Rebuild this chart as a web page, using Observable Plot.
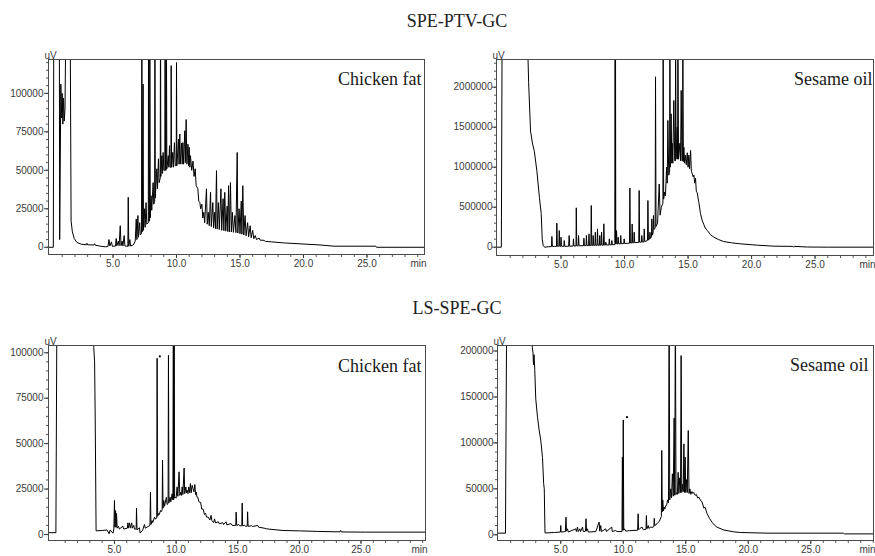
<!DOCTYPE html>
<html><head><meta charset="utf-8">
<script src="https://cdn.jsdelivr.net/npm/d3@7"></script>
<script src="https://cdn.jsdelivr.net/npm/@observablehq/plot@0.6"></script>
<style>
html,body{margin:0;padding:0;background:#fff;overflow:hidden;}
#wrap{position:relative;width:875px;height:556px;overflow:hidden;background:#fff;}
#wrap svg{position:absolute;left:0;top:0;}
.title{position:absolute;font-family:"Liberation Serif","Times New Roman",serif;font-size:18px;line-height:18px;color:#222;transform:translateX(-50%);white-space:nowrap;}
</style></head><body>
<div id="wrap">
  <div class="title" style="left:457px;top:12px;">SPE-PTV-GC</div>
  <div class="title" style="left:457px;top:299px;">LS-SPE-GC</div>
</div>
<script>
// ---- tick labels ----
const xTicks = [5, 10, 15, 20, 25];
const yTicksChickenPTV = [0, 25000, 50000, 75000, 100000];
const yTicksSesamePTV = [0, 500000, 1000000, 1500000, 2000000];
const yTicksChickenLS = [0, 25000, 50000, 75000, 100000];
const yTicksSesameLS = [0, 50000, 100000, 150000, 200000];
const sampleLabels = ["Chicken fat", "Sesame oil", "Chicken fat", "Sesame oil"];

// ---- chromatograms: [time (min), signal (uV)] ----
const chickenPTV = [
[-0.1,0],[0.3,0],[0.34,160000],[0.77,160000],[0.8,5000],[0.84,47000],[0.89,106000],[0.95,84000],[1.0,100000],[1.05,80000],[1.1,97000],[1.16,82000],[1.22,90000],[1.3,160000],[1.62,160000],[1.7,17000],[1.8,10000],[1.95,5600],[2.15,3200],[2.5,2000],[2.9,1600],[2.95,2600],[3.0,1600],[3.5,1500],[3.55,2300],[3.6,1400],[4.0,700],[4.4,300],[4.6,500],[4.68,5000],[4.75,800],[4.88,3500],[4.95,600],[5.2,800],[5.25,5700],[5.3,900],[5.42,4000],[5.48,1000],[5.57,14000],[5.63,1000],[5.72,4000],[5.78,900],[5.88,7600],[5.94,800],[6.17,600],[6.2,32500],[6.24,700],[6.33,5000],[6.38,800],[6.6,1500],[6.75,4000],[6.83,18400],[6.88,5000],[6.96,20600],[7.0,6500],[7.1,16000],[7.15,8000],[7.25,9000],[7.27,160000],[7.3,10000],[7.37,106000],[7.4,11000],[7.48,25000],[7.53,13000],[7.6,29000],[7.66,15000],[7.78,16000],[7.8,160000],[7.84,17000],[7.88,17000],[7.9,160000],[7.93,19000],[8.0,33500],[8.05,24000],[8.16,42000],[8.21,28000],[8.28,30000],[8.3,160000],[8.33,32000],[8.45,51000],[8.5,38000],[8.58,57500],[8.63,42000],[8.72,45000],[8.74,160000],[8.77,46000],[8.85,59500],[8.9,48000],[8.95,61600],[9.0,50000],[9.08,50000],[9.1,160000],[9.14,50000],[9.18,50000],[9.2,160000],[9.24,51000],[9.35,59500],[9.4,52000],[9.45,66000],[9.5,52000],[9.56,52000],[9.58,118000],[9.61,52000],[9.7,61600],[9.75,52000],[9.84,68000],[9.9,53000],[9.98,53000],[10.0,120000],[10.03,53000],[10.16,70300],[10.2,54000],[10.26,73600],[10.3,54000],[10.4,67800],[10.45,54000],[10.5,68000],[10.56,54000],[10.65,75700],[10.7,55000],[10.76,83000],[10.82,54000],[10.9,67000],[10.95,53000],[11.0,65000],[11.05,52000],[11.1,59500],[11.2,50000],[11.3,56000],[11.38,46000],[11.47,51000],[11.55,40000],[11.68,38000],[11.75,30000],[11.84,29000],[11.9,25000],[12.0,28000],[12.07,19000],[12.15,22700],[12.22,16000],[12.36,38000],[12.42,15000],[12.5,22700],[12.58,14000],[12.68,35700],[12.74,13500],[12.86,29000],[12.92,12500],[13.0,22700],[13.07,12000],[13.15,49800],[13.2,11800],[13.3,29000],[13.37,11500],[13.5,38000],[13.56,11000],[13.67,31600],[13.73,10800],[13.8,35700],[13.88,10500],[13.99,26700],[14.04,10200],[14.1,40000],[14.17,10000],[14.25,42000],[14.32,9900],[14.4,22700],[14.48,9700],[14.6,20600],[14.68,9500],[14.78,61600],[14.83,9200],[14.93,25000],[15.0,8800],[15.1,30000],[15.15,8500],[15.22,40000],[15.3,8000],[15.4,20600],[15.48,7500],[15.6,16000],[15.68,6800],[15.8,14000],[15.88,6200],[16.0,11000],[16.08,5600],[16.2,7600],[16.3,5000],[16.5,6000],[16.6,4600],[16.9,4500],[17.0,3800],[17.5,3500],[18.5,2800],[19.8,2200],[21.3,1500],[22.4,700],[25.7,700],[25.75,0],[29.7,0]
];

const sesamePTV = [
[-0.1,0],[0.3,0],[0.31,375000],[0.36,2600000],[2.36,2600000],[2.45,2062000],[2.6,1450000],[2.76,1290000],[2.9,1200000],[3.1,950000],[3.3,620000],[3.44,420000],[3.52,100000],[3.6,20000],[3.7,0],[4.0,5000],[4.25,8000],[4.28,134000],[4.32,8000],[4.5,10000],[4.64,10000],[4.67,300000],[4.71,12000],[4.83,10000],[4.86,208000],[4.9,12000],[4.97,10000],[5.0,125000],[5.04,12000],[5.22,10000],[5.25,83000],[5.3,10000],[5.6,12000],[5.64,146000],[5.68,12000],[5.95,14000],[5.98,104000],[6.02,14000],[6.18,16000],[6.2,492000],[6.24,16000],[6.35,17000],[6.38,146000],[6.42,18000],[6.77,18000],[6.8,112000],[6.84,19000],[6.97,20000],[7.0,146000],[7.04,20000],[7.17,20000],[7.2,167000],[7.24,21000],[7.35,21000],[7.38,521000],[7.42,22000],[7.5,22000],[7.53,146000],[7.57,22000],[7.67,23000],[7.7,187000],[7.74,23000],[7.84,23000],[7.87,229000],[7.91,24000],[8.02,24000],[8.05,146000],[8.09,25000],[8.16,25000],[8.19,187000],[8.23,25000],[8.34,26000],[8.37,292000],[8.41,26000],[8.5,27000],[8.53,62000],[8.57,27000],[8.77,28000],[8.8,104000],[8.84,28000],[8.97,30000],[9.0,83000],[9.04,30000],[9.24,32000],[9.26,2600000],[9.28,60000],[9.29,2600000],[9.31,40000],[9.34,40000],[9.37,208000],[9.41,40000],[9.47,40000],[9.5,125000],[9.54,42000],[9.67,42000],[9.7,146000],[9.74,43000],[9.94,45000],[9.97,104000],[10.01,46000],[10.2,48000],[10.39,50000],[10.42,740000],[10.46,52000],[10.57,53000],[10.6,290000],[10.64,54000],[10.73,55000],[10.76,187000],[10.8,56000],[11.12,60000],[11.15,708000],[11.19,62000],[11.33,63000],[11.36,146000],[11.4,64000],[11.52,66000],[11.55,229000],[11.59,70000],[11.81,85000],[11.84,583000],[11.88,90000],[11.97,100000],[12.0,187000],[12.04,110000],[12.12,130000],[12.15,354000],[12.19,150000],[12.25,180000],[12.28,396000],[12.32,220000],[12.41,240000],[12.44,2130000],[12.48,260000],[12.6,300000],[12.73,790000],[12.8,400000],[12.9,500000],[13.02,550000],[13.04,2600000],[13.08,600000],[13.15,690000],[13.22,640000],[13.31,1000000],[13.36,800000],[13.41,1584000],[13.48,900000],[13.55,950000],[13.57,2600000],[13.6,1000000],[13.67,1667000],[13.72,1050000],[13.75,1300000],[13.8,1050000],[13.88,1834000],[13.95,1080000],[14.0,1080000],[14.02,2600000],[14.06,1100000],[14.15,1500000],[14.18,1100000],[14.2,2600000],[14.25,1100000],[14.36,1300000],[14.41,1080000],[14.46,1959000],[14.52,1080000],[14.57,1080000],[14.59,2600000],[14.63,1070000],[14.67,1250000],[14.73,1050000],[14.8,1150000],[14.86,1030000],[14.94,1180000],[15.0,1000000],[15.06,1150000],[15.12,980000],[15.2,1209000],[15.26,950000],[15.33,917000],[15.4,880000],[15.46,900000],[15.52,800000],[15.59,860000],[15.65,700000],[15.72,680000],[15.85,560000],[15.98,420000],[16.1,340000],[16.25,280000],[16.35,240000],[16.51,210000],[16.75,160000],[17.03,125000],[17.4,95000],[17.8,71000],[18.4,55000],[19.1,42000],[20.45,25000],[21.76,12500],[23.2,10000],[23.3,4000],[23.4,10000],[24.4,2000],[26,0],[30.5,0]
];

const chickenLS = [
[-0.4,1000],[0.25,1000],[0.28,46000],[0.35,150000],[3.3,150000],[3.32,103000],[3.39,95000],[3.44,63000],[3.51,2000],[4.0,2200],[4.4,2500],[4.57,400],[4.65,2500],[4.88,700],[4.95,3000],[5.0,18700],[5.04,4000],[5.09,13200],[5.13,4000],[5.17,11600],[5.22,3500],[5.32,4600],[5.4,3000],[5.68,4600],[5.75,3000],[6.05,3500],[6.09,6400],[6.15,3500],[6.22,6400],[6.3,3500],[6.4,6400],[6.45,3500],[6.57,5000],[6.62,3000],[6.76,3000],[6.79,14500],[6.83,2500],[7.03,3700],[7.08,800],[7.3,2500],[7.43,5500],[7.5,3500],[7.88,5000],[7.92,23300],[7.96,5500],[8.05,7700],[8.1,6500],[8.25,9600],[8.3,8500],[8.43,9000],[8.46,97000],[8.5,10000],[8.59,11600],[8.64,11000],[8.73,13200],[8.78,12500],[8.87,13500],[8.9,41000],[8.94,14500],[9.0,18700],[9.06,15500],[9.21,20500],[9.27,16500],[9.35,17000],[9.38,98600],[9.42,17500],[9.52,20500],[9.57,18000],[9.68,22400],[9.74,19000],[9.78,150000],[9.8,19000],[9.84,150000],[9.88,20000],[9.95,20500],[10.0,20000],[10.08,26200],[10.14,21000],[10.24,34500],[10.3,21500],[10.39,23300],[10.44,21500],[10.49,26200],[10.55,22000],[10.65,36600],[10.7,22500],[10.79,26200],[10.84,23000],[10.9,24400],[10.96,22500],[11.03,26200],[11.1,23000],[11.16,28000],[11.22,23000],[11.3,27000],[11.37,25300],[11.45,23500],[11.52,27500],[11.58,22000],[11.63,23300],[11.7,20500],[11.76,20500],[11.85,18000],[11.99,17700],[12.08,14000],[12.19,14000],[12.3,11000],[12.4,11600],[12.46,9600],[12.6,9600],[12.74,8000],[12.84,10500],[12.9,7700],[13.05,6500],[13.12,8600],[13.2,6400],[13.43,7000],[13.5,5900],[13.79,6500],[13.85,5500],[14.05,7000],[14.12,5300],[14.46,6000],[14.55,5000],[14.84,5000],[14.87,12300],[14.92,5000],[15.08,5500],[15.15,4800],[15.33,4800],[15.36,17300],[15.4,4800],[15.54,5000],[15.6,4600],[15.77,4600],[15.8,12500],[15.84,4500],[16.11,4800],[16.2,4400],[16.62,5000],[16.7,4000],[17.14,3500],[17.34,3100],[18.68,2200],[20.02,2000],[21.46,1700],[22.8,1500],[23.3,1500],[23.35,2200],[23.4,1400],[25.38,1300],[30.3,1300]
];

const sesameLS = [
[-0.1,1800],[0.58,1800],[0.6,65000],[0.68,250000],[2.68,250000],[2.72,204000],[2.78,198000],[2.82,185000],[2.86,196000],[2.92,180000],[3.0,148000],[3.14,128000],[3.27,114000],[3.4,103000],[3.54,84000],[3.63,56000],[3.68,50000],[3.74,2000],[4.5,2500],[4.97,3000],[5.0,10100],[5.03,3000],[5.37,3500],[5.42,19200],[5.46,4000],[5.54,6500],[5.6,3000],[6.2,6500],[6.25,3500],[6.34,8400],[6.4,3500],[6.52,6500],[6.58,3500],[6.74,8400],[6.8,3500],[6.98,4000],[7.02,17500],[7.06,4000],[7.14,6500],[7.2,3000],[7.8,3500],[8.07,13800],[8.12,4000],[8.2,10100],[8.25,3500],[8.6,6500],[8.65,3500],[9.08,8400],[9.12,3500],[9.4,4700],[9.5,3500],[9.9,3500],[9.93,84500],[9.97,5000],[10.0,125000],[10.04,5000],[10.1,6500],[10.2,4000],[10.5,4500],[11.15,5000],[11.19,22900],[11.23,5500],[11.3,6500],[11.5,8400],[11.6,5500],[11.82,6000],[11.85,21000],[11.89,6500],[12.0,10100],[12.05,7000],[12.2,8400],[12.3,8000],[12.45,9000],[12.48,18000],[12.52,10000],[12.7,12000],[12.9,15000],[13.05,20000],[13.08,91800],[13.12,25000],[13.16,38000],[13.22,26000],[13.27,30000],[13.33,28000],[13.4,31800],[13.47,32000],[13.54,38000],[13.62,35000],[13.67,250000],[13.72,38000],[13.8,50000],[13.86,40000],[13.93,66400],[14.0,42000],[14.07,127000],[14.12,43000],[14.17,250000],[14.22,44000],[14.28,45700],[14.33,44000],[14.39,68000],[14.45,45000],[14.52,62000],[14.58,46000],[14.63,195000],[14.68,46000],[14.74,55000],[14.8,47000],[14.85,99000],[14.9,46000],[14.95,84500],[15.0,46000],[15.06,60000],[15.12,46000],[15.2,113500],[15.26,45000],[15.33,50000],[15.4,44000],[15.5,47000],[15.56,45000],[15.64,46000],[15.75,43000],[15.85,44000],[15.95,40000],[16.05,41000],[16.2,37000],[16.3,36000],[16.45,29000],[16.55,30000],[16.7,23000],[16.9,18000],[17.1,13700],[17.3,10500],[17.5,8300],[18.05,5200],[18.85,3200],[19.4,2500],[21.5,1800],[27.6,1800],[27.7,1000],[30.2,1000]
];

// marked peaks (asterisk dots)
const chickenLSMarks = [[8.68, 98000]];
const sesameLSMarks = [[10.3, 128000]];

const panels = [
  {data: chickenPTV, marks: [], label: sampleLabels[0], frame: [48, 424, 59, 254], xDomain: [-0.08, 29.53], yDomain: [-4700, 122000], yTicks: yTicksChickenPTV, yMinor: d3.range(0, 120001, 5000), pad: 1, ldx: -3, ldy: 25.5},
  {data: sesamePTV, marks: [], label: sampleLabels[1], frame: [496, 873, 59, 255], xDomain: [-0.08, 29.6], yDomain: [-104000, 2346000], yTicks: yTicksSesamePTV, yMinor: d3.range(0, 2300001, 100000), pad: 0, ldx: -1, ldy: 25.5},
  {data: chickenLS, marks: chickenLSMarks, label: sampleLabels[2], frame: [48, 425, 345, 540], xDomain: [-0.35, 30.23], yDomain: [-3300, 104000], yTicks: yTicksChickenLS, yMinor: d3.range(0, 100001, 5000), pad: 1, ldx: -4, ldy: 26},
  {data: sesameLS, marks: sesameLSMarks, label: sampleLabels[3], frame: [497, 873, 345, 540], xDomain: [-0.06, 30.02], yDomain: [-6200, 206000], yTicks: yTicksSesameLS, yMinor: d3.range(0, 200001, 10000), pad: 0, ldx: -5, ldy: 25}
];

const W = 875, H = 556;
const wrap = document.getElementById("wrap");
const ink = "#3a3a3a";
for (const p of panels) {
  const [l, r, t, b] = p.frame;
  const minorX = d3.range(1, 31, 1).filter(v => v >= p.xDomain[0] && v <= p.xDomain[1]);
  const svg = Plot.plot({
    width: W, height: H,
    marginLeft: l, marginRight: W - r, marginTop: t, marginBottom: H - b,
    x: {domain: p.xDomain},
    y: {domain: p.yDomain},
    style: {background: "transparent", fontFamily: "'Liberation Sans', Arial, sans-serif", fontSize: "10px", color: ink, overflow: "visible"},
    marks: [
      Plot.axisX(minorX, {tickSize: 3, tickFormat: () => "", label: null, color: "#555"}),
      Plot.axisX(xTicks, {tickSize: 4, tickPadding: 1, tickFormat: d => d.toFixed(1), label: null, color: ink}),
      Plot.axisY(p.yMinor, {tickSize: 2, tickFormat: () => "", label: null, color: "#555"}),
      Plot.axisY(p.yTicks, {tickSize: 4, tickPadding: p.pad, tickFormat: d => String(d), label: null, color: ink}),
      Plot.line(p.data, {x: d => d[0], y: d => d[1], stroke: "#000", strokeWidth: 1, clip: true}),
      Plot.dot(p.marks, {x: d => d[0], y: d => d[1], r: 1.1, fill: "#000", stroke: null}),
      Plot.frame({stroke: "#4a4a4a"}),
      Plot.text(["uV"], {frameAnchor: "top-left", lineAnchor: "bottom", textAnchor: "middle", dx: 2, dy: -1, fill: ink}),
      Plot.text(["min"], {frameAnchor: "bottom-right", lineAnchor: "top", textAnchor: "middle", dx: -6, dy: 5, fill: ink}),
      Plot.text([p.label], {frameAnchor: "top-right", lineAnchor: "bottom", textAnchor: "end", dx: p.ldx, dy: p.ldy, fontFamily: "'Liberation Serif', 'Times New Roman', serif", fontSize: 18, fill: "#1a1a1a"})
    ]
  });
  wrap.appendChild(svg);
}
</script>
</body></html>
